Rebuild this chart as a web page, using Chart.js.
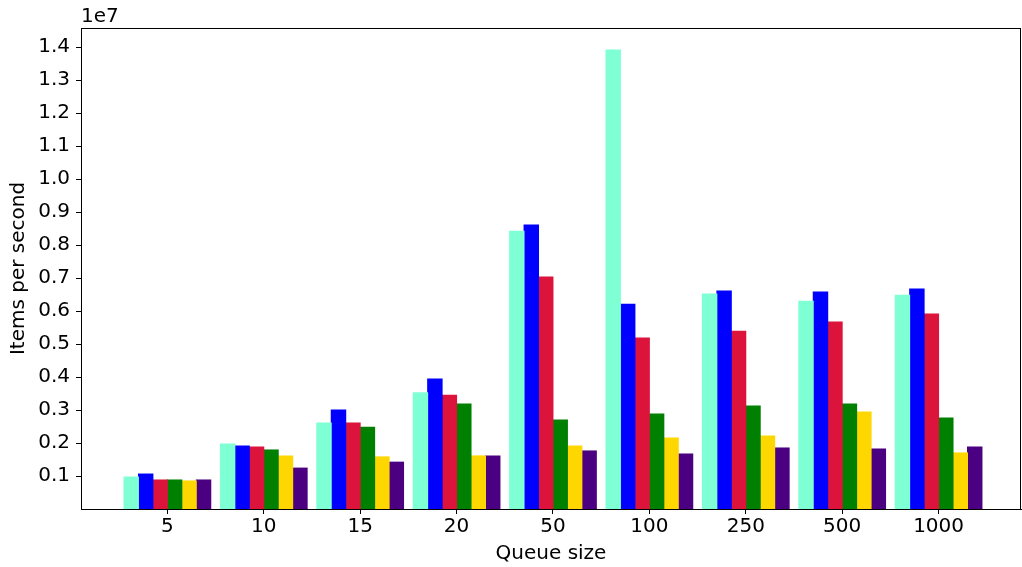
<!DOCTYPE html>
<html>
<head>
<meta charset="utf-8">
<script src="https://cdn.jsdelivr.net/npm/chart.js@4.4.1/dist/chart.umd.min.js"></script>
<style>
  html, body { margin: 0; padding: 0; background: #fff; }
  #wrap { width: 1022px; height: 567px; position: relative; }
</style>
</head>
<body>
<div id="wrap"><canvas id="queue-chart"></canvas></div>
<script>
'use strict';

// queue sizes on the x axis
var queueSizes = ['5', '10', '15', '20', '50', '100', '250', '500', '1000'];

// items per second, one array per bar colour
var seriesA = [0.97e6, 1.97e6, 2.61e6, 3.52e6, 8.42e6, 13.91e6, 6.52e6, 6.30e6, 6.48e6];
var seriesB = [1.06e6, 1.91e6, 3.00e6, 3.94e6, 8.61e6, 6.21e6, 6.61e6, 6.58e6, 6.67e6];
var seriesC = [0.88e6, 1.88e6, 2.61e6, 3.45e6, 7.03e6, 5.18e6, 5.39e6, 5.67e6, 5.91e6];
var seriesD = [0.88e6, 1.79e6, 2.48e6, 3.18e6, 2.70e6, 2.88e6, 3.12e6, 3.18e6, 2.76e6];
var seriesE = [0.85e6, 1.61e6, 1.58e6, 1.61e6, 1.91e6, 2.15e6, 2.21e6, 2.94e6, 1.70e6];
var seriesF = [0.88e6, 1.24e6, 1.42e6, 1.61e6, 1.76e6, 1.67e6, 1.85e6, 1.82e6, 1.88e6];

var seriesList = [seriesA, seriesB, seriesC, seriesD, seriesE, seriesF];
var seriesColors = ['#7FFFD4', '#0000FF', '#DC143C', '#008000', '#FFD700', '#4B0082'];

// y ticks, in units of 1e7
var yTicks = [0.1, 0.2, 0.3, 0.4, 0.5, 0.6, 0.7, 0.8, 0.9, 1.0, 1.1, 1.2, 1.3, 1.4];

var font = 'DejaVu Sans';

var datasets = seriesList.map(function (values, s) {
    return {
        label: 'Series ' + (s + 1),
        data: values.map(function (v, i) { return { x: i, y: v }; }),
        backgroundColor: seriesColors[s],
        borderWidth: 0,
        inflateAmount: 0.5,
        categoryPercentage: 0.9,
        barPercentage: 1.0,
    };
});

// axes frame + the "1e7" offset text, matplotlib style
var framePlugin = {
    id: 'frame',
    afterDraw: function (chart) {
        var ctx = chart.ctx;
        var a = chart.chartArea;
        ctx.save();
        ctx.strokeStyle = '#000';
        ctx.lineWidth = 1;
        ctx.strokeRect(a.left + 0.5, a.top + 0.5, a.right - a.left - 1, a.bottom - a.top);
        ctx.fillStyle = '#000';
        ctx.font = '20px "' + font + '"';
        ctx.textAlign = 'left';
        ctx.textBaseline = 'alphabetic';
        ctx.fillText('1e7', a.left, a.top - 6);
        ctx.restore();
    },
};

new Chart(document.getElementById('queue-chart'), {
    type: 'bar',
    data: { datasets: datasets },
    options: {
        animation: false,
        responsive: true,
        maintainAspectRatio: false,
        layout: { padding: { left: 0, right: 1, top: 28, bottom: 0 } },
        plugins: {
            legend: { display: false },
            tooltip: { enabled: false },
        },
        scales: {
            x: {
                type: 'linear',
                offset: false,
                min: -0.896,
                max: 8.855,
                afterBuildTicks: function (scale) {
                    scale.ticks = queueSizes.map(function (_, i) { return { value: i }; });
                },
                afterFit: function (scale) { scale.height = 58; },
                ticks: {
                    color: '#000',
                    font: { family: font, size: 20 },
                    padding: 1,
                    maxRotation: 0,
                    autoSkip: false,
                    callback: function (v) { return queueSizes[v]; },
                },
                grid: { offset: false, drawOnChartArea: false, drawTicks: true, tickLength: 5, color: '#000' },
                border: { display: true, color: '#000' },
                title: {
                    display: true,
                    text: 'Queue size',
                    color: '#000',
                    font: { family: font, size: 20 },
                    padding: { top: 0, bottom: 1 },
                },
            },
            y: {
                min: 0,
                max: 1.458e7,
                afterBuildTicks: function (scale) {
                    scale.ticks = yTicks.map(function (t) { return { value: t * 1e7 }; });
                },
                afterFit: function (scale) { scale.width = 81; },
                ticks: {
                    color: '#000',
                    font: { family: font, size: 20 },
                    padding: 6,
                    callback: function (v) { return (v / 1e7).toFixed(1); },
                },
                grid: { drawOnChartArea: false, drawTicks: true, tickLength: 5, color: '#000' },
                border: { display: true, color: '#000' },
                title: {
                    display: true,
                    text: 'Items per second',
                    color: '#000',
                    font: { family: font, size: 20 },
                    padding: { top: 7, bottom: 0 },
                },
            },
        },
    },
    plugins: [framePlugin],
});
</script>
</body>
</html>
